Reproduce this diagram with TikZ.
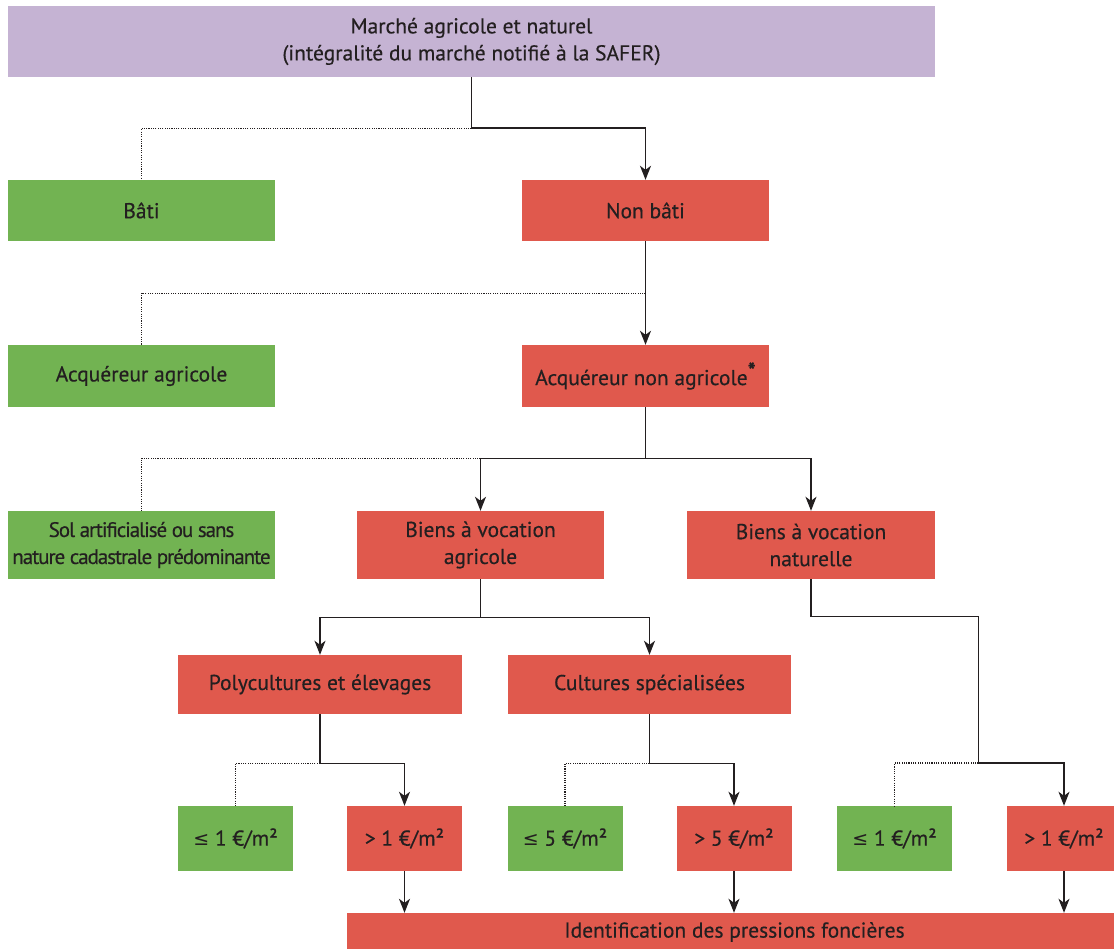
\documentclass[tikz,border=0pt]{standalone}
\usepackage{fontspec}
\setmainfont{PT Sans}[FakeBold=0.4]
\newfontfamily\symfont{DejaVu Sans}
\usetikzlibrary{arrows.meta}
\definecolor{lilac}{HTML}{C5B3D3}
\definecolor{vert}{HTML}{72B352}
\definecolor{rouge}{HTML}{E0594D}
\definecolor{encre}{HTML}{231F20}
\newcommand{\leqsign}{{\symfont\fontsize{19}{19}\selectfont ≤}}
\begin{document}
\begin{tikzpicture}[x=1pt,y=-1pt,
  box/.style={rectangle,inner sep=0pt,align=center,text=encre,font=\fontsize{21.5}{27}\selectfont},
  topbox/.style={box,fill=lilac},
  okbox/.style={box,fill=vert},
  kobox/.style={box,fill=rouge},
  link/.style={draw=encre,line width=1.4pt},
  go/.style={link,-{Stealth[length=14pt,width=11pt,inset=4pt]}},
  nogo/.style={draw=encre,line width=1.1pt,dash pattern=on 1.1pt off 1.2pt}]
\useasboundingbox (0,0) rectangle (1114,949);

\node[topbox,minimum width=927pt,minimum height=71pt] (top) at (471.5,41.5) {Marché agricole et naturel\\(intégralité du marché notifié à la SAFER)};

\node[okbox,minimum width=267pt,minimum height=61pt] (bati) at (141.5,210.5) {Bâti};
\node[kobox,minimum width=247pt,minimum height=61pt] (nonbati) at (645.5,210.5) {Non bâti};

\node[okbox,minimum width=267pt,minimum height=62pt] (acqagr) at (141.5,376) {Acquéreur agricole};
\node[kobox,minimum width=247pt,minimum height=62pt] (acqnon) at (645.5,376) {Acquéreur non agricole\raisebox{7pt}{\textbf{*}}};

\node[okbox,minimum width=267pt,minimum height=68pt,font=\fontsize{21}{27}\selectfont\addfontfeature{LetterSpace=-5}] (sol) at (141.5,545) {Sol artificialisé ou sans\\nature cadastrale prédominante};
\node[kobox,minimum width=247pt,minimum height=68pt] (bagri) at (480.5,545) {Biens à vocation\\agricole};
\node[kobox,minimum width=248pt,minimum height=68pt] (bnat) at (811,545) {Biens à vocation\\naturelle};

\node[kobox,minimum width=284pt,minimum height=59pt] (poly) at (320,684.5) {Polycultures et élevages};
\node[kobox,minimum width=283pt,minimum height=59pt] (cult) at (649.5,684.5) {Cultures spécialisées};

\node[okbox,minimum width=115pt,minimum height=65pt] (p1) at (235.5,838.5) {\leqsign{} 1 €/m²};
\node[kobox,minimum width=115pt,minimum height=65pt] (p2) at (404.5,838.5) {> 1 €/m²};
\node[okbox,minimum width=115pt,minimum height=65pt] (p3) at (565,838.5) {\leqsign{} 5 €/m²};
\node[kobox,minimum width=115pt,minimum height=65pt] (p4) at (734,838.5) {> 5 €/m²};
\node[okbox,minimum width=115pt,minimum height=65pt] (p5) at (894.5,838.5) {\leqsign{} 1 €/m²};
\node[kobox,minimum width=115pt,minimum height=65pt] (p6) at (1064,838.5) {> 1 €/m²};

\node[kobox,minimum width=775pt,minimum height=38pt] (ident) at (734.5,932) {Identification des pressions foncières};

% level 1
\coordinate (j1) at ([yshift=-51pt]top.south);
\draw[link] (top.south) -- (j1);
\draw[go] (j1) -| (nonbati.north);
\draw[nogo] (j1) -| (bati.north);
% level 2
\coordinate (j2) at ([yshift=-52pt]nonbati.south);
\draw[go] (nonbati.south) -- (acqnon.north);
\draw[nogo] (j2) -| (acqagr.north);
% level 3
\coordinate (j3) at ([yshift=-51pt]acqnon.south);
\draw[link] (acqnon.south) -- (j3);
\draw[go] (j3) -| (bagri.north);
\draw[go] (j3) -| (bnat.north);
\draw[nogo] (bagri.north |- j3) -| (sol.north);
% level 4
\coordinate (j4) at ([yshift=-38pt]bagri.south);
\draw[link] (bagri.south) -- (j4);
\draw[go] (j4) -| (poly.north);
\draw[go] (j4) -| (cult.north);
% level 5
\coordinate (j5) at ([yshift=-49pt]poly.south);
\draw[link] (poly.south) -- (j5);
\draw[go] (j5) -| (p2.north);
\draw[nogo] (j5) -| (p1.north);
\coordinate (j6) at ([yshift=-49pt]cult.south);
\draw[link] (cult.south) -- (j6);
\draw[go] (j6) -| (p4.north);
\draw[nogo] (j6) -| (p3.north);
\coordinate (j7) at ([yshift=-37pt]bnat.south);
\coordinate (j8) at (978.5,763);
\draw[link] (bnat.south) -- (j7) -| (j8);
\draw[go] (j8) -| (p6.north);
\draw[nogo] (j8) -| (p5.north);
% final
\draw[go] (p2.south) -- (p2.south |- ident.north);
\draw[go] (p4.south) -- (p4.south |- ident.north);
\draw[go] (p6.south) -- (p6.south |- ident.north);
\end{tikzpicture}
\end{document}
